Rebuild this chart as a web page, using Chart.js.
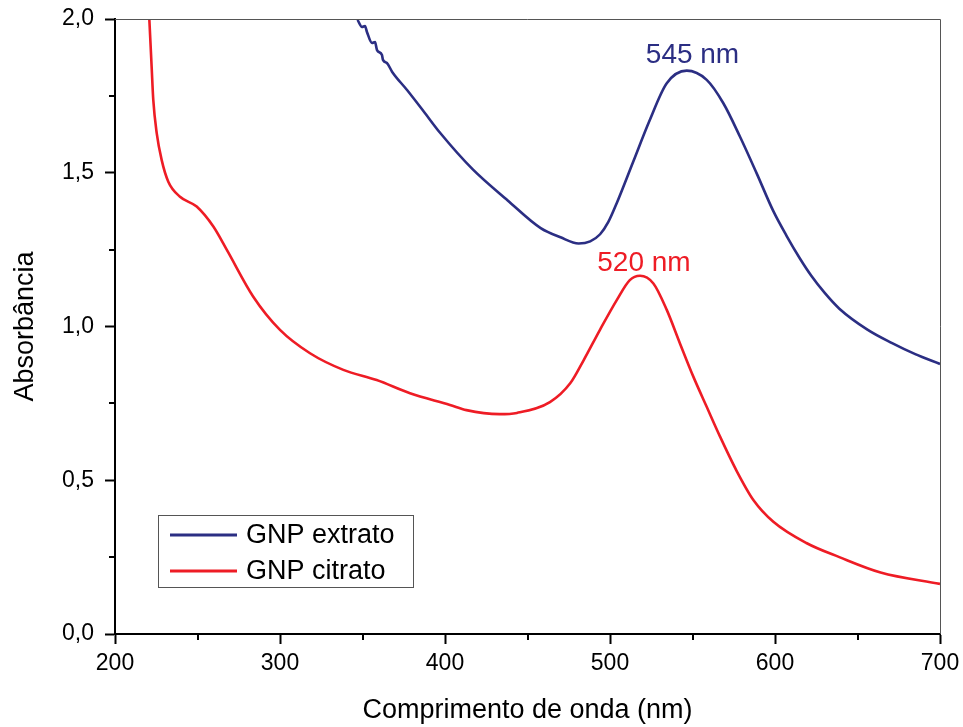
<!DOCTYPE html>
<html>
<head>
<meta charset="utf-8">
<script src="https://cdn.jsdelivr.net/npm/chart.js@4.4.0/dist/chart.umd.min.js"></script>
<style>
  html, body { margin: 0; padding: 0; background: #fff; }
  #wrap { width: 963px; height: 727px; }
</style>
</head>
<body>
<div id="wrap"><canvas id="chart"></canvas></div>
<script>
// wavelength (nm) / absorbance
const extratoX = [347, 349.7, 351.5, 352.7, 355.8, 357.6, 358.8, 361.8, 362.4, 364.8, 368, 377, 387, 397, 417, 438, 458, 470, 481, 488, 494, 499, 504, 514, 524, 534.4, 546.5, 558.6, 568.7, 578.8, 588.9, 599, 607, 615, 622, 630, 639, 656, 671, 685, 700];
const extratoY = [1.997, 1.974, 1.977, 1.958, 1.922, 1.925, 1.899, 1.883, 1.867, 1.857, 1.828, 1.769, 1.70, 1.63, 1.51, 1.41, 1.32, 1.29, 1.27, 1.277, 1.30, 1.34, 1.40, 1.535, 1.67, 1.791, 1.832, 1.802, 1.726, 1.617, 1.498, 1.375, 1.295, 1.222, 1.165, 1.11, 1.058, 0.99, 0.946, 0.91, 0.878];

const citratoX = [220.8, 222.2, 223.2, 225.3, 228.3, 232.3, 239.4, 249.5, 259.6, 267.7, 283.8, 300, 318.2, 338.4, 358.6, 378.8, 403, 413, 433, 443.6, 463.6, 476, 484, 494, 504, 512, 518.2, 526.3, 534.4, 542.4, 550.5, 558.6, 566.7, 576.8, 587, 599, 619, 639, 664, 700];
const citratoY = [2.0, 1.845, 1.737, 1.628, 1.541, 1.471, 1.422, 1.39, 1.325, 1.25, 1.097, 0.989, 0.913, 0.859, 0.826, 0.783, 0.745, 0.728, 0.715, 0.719, 0.754, 0.816, 0.89, 0.99, 1.085, 1.151, 1.165, 1.14, 1.054, 0.945, 0.837, 0.739, 0.642, 0.53, 0.435, 0.365, 0.296, 0.25, 0.2, 0.163];

const seriesNames = ['GNP extrato', 'GNP citrato'];
const peakLabels = ['545 nm', '520 nm'];
const xMinor = [250, 350, 450, 550, 650];
const yMinor = [0.25, 0.75, 1.25, 1.75];

const BLUE = '#2b2e83';
const RED = '#ee1c25';
const FONT = '"Liberation Sans", Arial, sans-serif';

function pts(xs, ys) { return xs.map((x, i) => ({ x: x, y: ys[i] })); }

// minor ticks, frame, legend box and peak labels
const extras = {
  id: 'extras',
  afterDraw(chart) {
    const ctx = chart.ctx;
    const a = chart.chartArea;
    const xs = chart.scales.x, ys = chart.scales.y;
    ctx.save();
    // top + right frame
    ctx.strokeStyle = '#555';
    ctx.lineWidth = 1;
    ctx.beginPath();
    ctx.moveTo(a.left, a.top + 0.5); ctx.lineTo(a.right + 0.5, a.top + 0.5); ctx.lineTo(a.right + 0.5, a.bottom);
    ctx.stroke();
    // minor ticks
    ctx.strokeStyle = '#000';
    ctx.lineWidth = 2;
    ctx.beginPath();
    xMinor.forEach(v => { const p = Math.round(xs.getPixelForValue(v)); ctx.moveTo(p, a.bottom); ctx.lineTo(p, a.bottom + 6); });
    yMinor.forEach(v => { const p = Math.round(ys.getPixelForValue(v)); ctx.moveTo(a.left, p); ctx.lineTo(a.left - 6, p); });
    ctx.stroke();
    // legend
    const lx = a.left + 43, ly = a.bottom - 119;
    ctx.strokeStyle = '#555';
    ctx.lineWidth = 1;
    ctx.strokeRect(lx + 0.5, ly + 0.5, 255, 72);
    ctx.font = '27px ' + FONT;
    ctx.textBaseline = 'middle';
    ctx.textAlign = 'left';
    chart.data.datasets.forEach((ds, i) => {
      const yy = ly + 20 + i * 36;
      ctx.strokeStyle = ds.borderColor;
      ctx.lineWidth = 3;
      ctx.beginPath(); ctx.moveTo(lx + 12, yy); ctx.lineTo(lx + 79, yy); ctx.stroke();
      ctx.fillStyle = '#000';
      ctx.fillText(ds.label, lx + 88, yy + 1);
    });
    // peak labels
    ctx.font = '28px ' + FONT;
    ctx.textAlign = 'center';
    ctx.fillStyle = BLUE;
    ctx.fillText(peakLabels[0], xs.getPixelForValue(550), ys.getPixelForValue(1.883));
    ctx.fillStyle = RED;
    ctx.fillText(peakLabels[1], xs.getPixelForValue(520.6), ys.getPixelForValue(1.205));
    ctx.restore();
  }
};

new Chart(document.getElementById('chart'), {
  type: 'line',
  data: {
    datasets: [
      { label: seriesNames[0], data: pts(extratoX, extratoY), borderColor: BLUE, borderWidth: 2.6, pointRadius: 0, cubicInterpolationMode: 'monotone' },
      { label: seriesNames[1], data: pts(citratoX, citratoY), borderColor: RED, borderWidth: 2.6, pointRadius: 0, cubicInterpolationMode: 'monotone' }
    ]
  },
  options: {
    responsive: true,
    maintainAspectRatio: false,
    animation: false,
    layout: { padding: { top: 19, right: 23, left: 0, bottom: 0 } },
    plugins: { legend: { display: false }, tooltip: { enabled: false } },
    scales: {
      x: {
        type: 'linear', min: 200, max: 700,
        afterFit(s) { s.height = 93; s.paddingLeft = 0; s.paddingRight = 0; },
        ticks: { stepSize: 100, color: '#000', padding: 6, font: { family: FONT, size: 23 } },
        grid: { drawOnChartArea: false, drawTicks: true, tickLength: 10, tickColor: '#000', tickWidth: 2 },
        border: { display: true, color: '#000', width: 2 },
        title: { display: true, text: 'Comprimento de onda (nm)', color: '#000', padding: { top: 0, bottom: 0 }, font: { family: FONT, size: 27 } }
      },
      y: {
        min: 0, max: 2,
        afterFit(s) { s.width = 115; s.paddingTop = 0; s.paddingBottom = 0; },
        ticks: { stepSize: 0.5, color: '#000', padding: 11, font: { family: FONT, size: 23 },
          callback: v => v.toFixed(1).replace('.', ',') },
        grid: { drawOnChartArea: false, drawTicks: true, tickLength: 10, tickColor: '#000', tickWidth: 2 },
        border: { display: true, color: '#000', width: 2 },
        title: { display: true, text: 'Absorbância', color: '#000', padding: { top: 9, bottom: 0 }, font: { family: FONT, size: 27 } }
      }
    }
  },
  plugins: [extras]
});
</script>
</body>
</html>
